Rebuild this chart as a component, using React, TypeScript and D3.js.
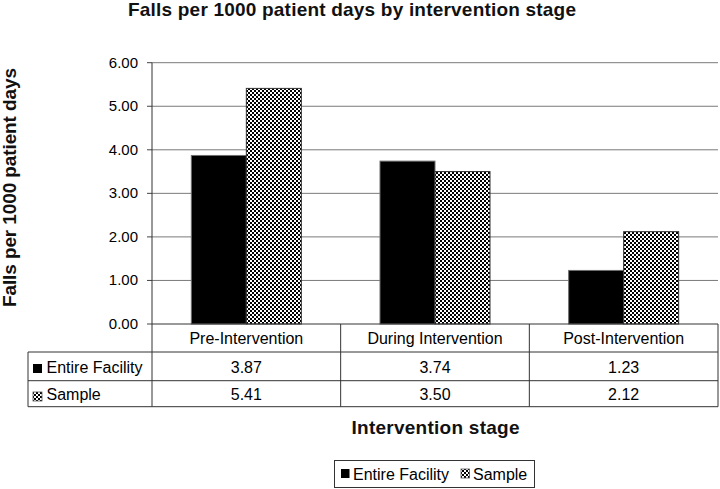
import React from "react";
import * as d3 from "d3";

const categories = ["Pre-Intervention", "During Intervention", "Post-Intervention"];
const seriesNames = ["Entire Facility", "Sample"];
const entireFacility = [3.87, 3.74, 1.23];
const sample = [5.41, 3.5, 2.12];
const yTicks = [0, 1, 2, 3, 4, 5, 6];

const title = "Falls per 1000 patient days by intervention stage";
const yTitle = "Falls per 1000 patient days";
const xTitle = "Intervention stage";

const FONT = "'Liberation Sans', Arial, sans-serif";

export default function App() {
  const W = 720;
  const H = 489;
  const left = 152;
  const right = 718;
  const top = 62.7;
  const bottom = 324;
  const rowLines = [352, 380.7, 406.7];
  const tableLeft = 28;

  const x = d3.scaleBand<string>().domain(categories).range([left, right]).padding(0);
  const inner = d3
    .scaleBand<string>()
    .domain(seriesNames)
    .range([0, x.bandwidth()])
    .paddingInner(0)
    .paddingOuter(0.715);
  const y = d3.scaleLinear().domain([0, 6]).range([bottom, top]);
  const fmt = d3.format(".2f");

  const series = [
    { name: seriesNames[0], values: entireFacility, fill: "#000", stroke: "#6e6e6e" },
    { name: seriesNames[1], values: sample, fill: "url(#checker)", stroke: "#333" },
  ];

  const colEdges = [...categories.map((c) => x(c) as number), right];

  return (
    <svg
      width={W}
      height={H}
      style={{ position: "absolute", left: 0, top: 0, background: "#fff" }}
      fontFamily={FONT}
    >
      <defs>
        <pattern id="checker" width={4} height={4} patternUnits="userSpaceOnUse">
          <rect width={4} height={4} fill="#fff" />
          <rect x={0} y={0} width={2} height={2} fill="#000" />
          <rect x={2} y={2} width={2} height={2} fill="#000" />
        </pattern>
      </defs>
      <rect width={W} height={H} fill="#fff" />

      {/* title */}
      <text
        x={352}
        y={16}
        textAnchor="middle"
        fontSize={19}
        fontWeight="bold"
        fill="#111"
        textLength={448}
        lengthAdjust="spacing"
      >
        {title}
      </text>

      {/* gridlines */}
      {yTicks.slice(1).map((t) => (
        <line key={"g" + t} x1={left} x2={right} y1={y(t)} y2={y(t)} stroke="#7a7a7a" strokeWidth={1} />
      ))}
      {/* ticks */}
      {yTicks.map((t) => (
        <g key={"t" + t}>
          <line x1={left - 5} x2={left} y1={y(t)} y2={y(t)} stroke="#444" />
          <text x={138} y={y(t) + 5} textAnchor="end" fontSize={15}>
            {fmt(t)}
          </text>
        </g>
      ))}

      {/* bars */}
      {series.map((s) =>
        categories.map((c, i) => (
          <rect
            key={s.name + c}
            x={(x(c) as number) + (inner(s.name) as number)}
            y={y(s.values[i])}
            width={inner.bandwidth()}
            height={bottom - y(s.values[i])}
            fill={s.fill}
            stroke={s.stroke}
            strokeWidth={1}
          />
        ))
      )}

      {/* y axis */}
      <line x1={left} x2={left} y1={top} y2={rowLines[2]} stroke="#333" />

      {/* table lines */}
      <line x1={left} x2={right} y1={bottom} y2={bottom} stroke="#333" />
      {rowLines.map((ry) => (
        <line key={"r" + ry} x1={tableLeft} x2={right} y1={ry} y2={ry} stroke="#333" />
      ))}
      <line x1={tableLeft} x2={tableLeft} y1={rowLines[0]} y2={rowLines[2]} stroke="#333" />
      {colEdges.slice(1).map((cx) => (
        <line key={"c" + cx} x1={cx} x2={cx} y1={bottom} y2={rowLines[2]} stroke="#333" />
      ))}

      {/* category labels */}
      {categories.map((c) => (
        <text key={"cl" + c} x={(x(c) as number) + x.bandwidth() / 2} y={343.5} textAnchor="middle" fontSize={16}>
          {c}
        </text>
      ))}
      {/* values */}
      {series.map((s, si) =>
        categories.map((c, i) => (
          <text
            key={"v" + s.name + c}
            x={(x(c) as number) + x.bandwidth() / 2}
            y={si === 0 ? 372.5 : 400}
            textAnchor="middle"
            fontSize={16}
          >
            {fmt(s.values[i])}
          </text>
        ))
      )}
      {/* row labels */}
      {series.map((s, si) => {
        const cy = si === 0 ? 368.5 : 396.5;
        return (
          <g key={"rl" + s.name}>
            <rect x={33} y={cy - 4.5} width={9} height={9} fill={s.fill} stroke={si === 0 ? "#000" : "#555"} strokeWidth={si === 0 ? 0 : 0.8} />
            <text x={46.5} y={si === 0 ? 372.5 : 400} fontSize={16}>
              {s.name}
            </text>
          </g>
        );
      })}

      {/* y title */}
      <text
        transform={`translate(16,187.5) rotate(-90)`}
        textAnchor="middle"
        fontSize={19}
        fontWeight="bold"
        fill="#111"
        textLength={239}
        lengthAdjust="spacing"
      >
        {yTitle}
      </text>

      {/* x title */}
      <text
        x={435.5}
        y={434}
        textAnchor="middle"
        fontSize={19}
        fontWeight="bold"
        fill="#111"
        textLength={168}
        lengthAdjust="spacing"
      >
        {xTitle}
      </text>

      {/* legend */}
      <rect x={334.5} y={460.5} width={200} height={27} fill="#fff" stroke="#333" />
      {series.map((s, si) => {
        const kx = si === 0 ? 341 : 461;
        const tx = si === 0 ? 353 : 473;
        return (
          <g key={"lg" + s.name}>
            <rect x={kx} y={469} width={8.5} height={9} fill={s.fill} stroke={si === 0 ? "#000" : "#555"} strokeWidth={si === 0 ? 0 : 0.8} />
            <text x={tx} y={479.5} fontSize={16}>
              {s.name}
            </text>
          </g>
        );
      })}
    </svg>
  );
}
